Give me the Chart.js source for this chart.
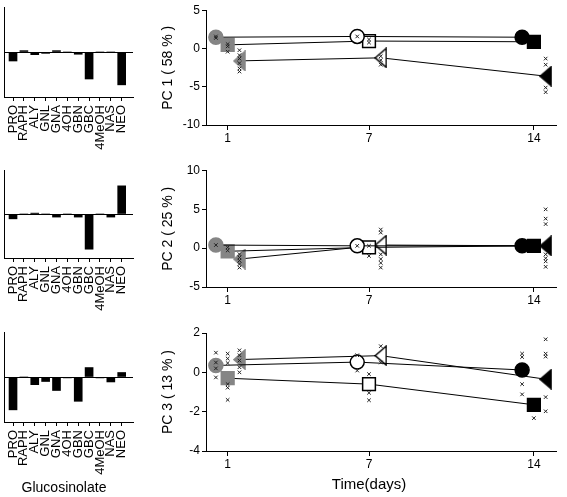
<!DOCTYPE html>
<html>
<head>
<meta charset="utf-8">
<script src="https://cdn.jsdelivr.net/npm/chart.js@4.4.1/dist/chart.umd.min.js"></script>
<style>
  html, body { margin: 0; padding: 0; background: #fff; width: 567px; height: 497px; overflow: hidden; }
  canvas { position: absolute; }
  .lbl { position: absolute; font-family: 'Liberation Sans', Arial, sans-serif; color: #000; white-space: nowrap; transform: translate(-50%, -50%); }
</style>
</head>
<body>
<canvas id="load1" width="140" height="157" style="left:0;top:0"></canvas>
<canvas id="load2" width="140" height="155" style="left:0;top:163px"></canvas>
<canvas id="load3" width="140" height="157" style="left:0;top:325px"></canvas>
<canvas id="score1" width="427" height="160" style="left:140px;top:0"></canvas>
<canvas id="score2" width="427" height="162" style="left:140px;top:160px"></canvas>
<canvas id="score3" width="427" height="177" style="left:140px;top:320px"></canvas>
<div class="lbl" style="left:64px;top:487px;font-size:14px">Glucosinolate</div>
<div class="lbl" style="left:369px;top:483px;font-size:15px">Time(days)</div>
<script>
// glucosinolate loadings (relative, left panels)
const glucosinolates = ['PRO', 'RAPH', 'ALY', 'GNL', 'GNA', '4OH', 'GBN', 'GBC', '4MeOH', 'NAS', 'NEO'];
const pc1Load = [-0.2, 0.03, -0.06, -0.03, 0.03, 0, -0.05, -0.6, 0, 0, -0.73];
const pc2Load = [-0.11, 0, 0.02, 0, -0.07, 0, -0.07, -0.8, 0, -0.07, 0.64];
const pc3Load = [-0.73, 0, -0.17, -0.1, -0.3, -0.02, -0.54, 0.21, -0.02, -0.11, 0.1];

// scores over time (right panels)
const days = [1, 7, 14];

const pc1Circle = [1.5, 1.6, 1.5];
const pc1Square = [0.5, 1.0, 0.9];
const pc1Triangle = [-1.6, -1.2, -3.6];
const pc1CircleReps = [[1.6, 1.4], [1.6], []];
const pc1SquareReps = [[0.6, 0.3, -0.4], [1.2, 0.8], []];
const pc1TriangleReps = [[-0.2, -0.85, -1.3, -1.9, -2.6, -3.0], [-1.0, -1.5, -2.1], [-1.3, -2.1, -5.1, -5.7]];
const pc1Ticks = [-10, -5, 0, 5];

const pc2Circle = [0.4, 0.3, 0.3];
const pc2Square = [-0.4, 0.1, 0.3];
const pc2Triangle = [-1.4, 0.4, 0.3];
const pc2CircleReps = [[0.4], [0.3], []];
const pc2SquareReps = [[0.1, -0.3], [0.3, -1.0], []];
const pc2TriangleReps = [[-0.77, -1.2, -1.6, -2.05, -2.5], [2.4, 2.0, -0.8, -1.4, -1.9, -2.5], [5.0, 3.8, 3.1, -0.8, -1.3, -1.7, -2.4]];
const pc2Ticks = [-5, 0, 5, 10];

const pc3Circle = [0.35, 0.52, 0.12];
const pc3Square = [-0.3, -0.6, -1.65];
const pc3Triangle = [0.65, 0.85, -0.35];
const pc3CircleReps = [[1.0, 0.5, 0.2, -0.26], [0.87, 0.09], [0.95, 0.78, -0.6, -1.12]];
const pc3SquareReps = [[0.95, 0.7, 0.47, -0.6, -0.78, -1.4], [-0.09, -1.04, -1.42], [-2.33]];
const pc3TriangleReps = [[1.12, 0.87, 0.6, 0.26, 0.0], [1.33, 0.5], [1.68, 0.95, 0.8, -1.26, -1.98]];
const pc3Ticks = [-4, -2, 0, 2];

Chart.defaults.font.family = "'Liberation Sans', Arial, sans-serif";
Chart.defaults.color = '#000';

// fixed axis size, no label overflow padding
const fixSize = (size) => (scale) => {
    if (scale.isHorizontal()) scale.height = size; else scale.width = size;
    scale.paddingTop = scale.paddingBottom = scale.paddingLeft = scale.paddingRight = 0;
};

function loadingChart(id, values) {
    new Chart(document.getElementById(id), {
        type: 'bar',
        data: {
            datasets: [{
                data: values.map((v, i) => ({ x: i, y: v })),
                backgroundColor: '#000',
                barThickness: 8
            }]
        },
        options: {
            responsive: false,
            devicePixelRatio: 1,
            animation: false,
            layout: { padding: { left: 0, top: 7, right: 7, bottom: 0 } },
            plugins: { legend: { display: false }, tooltip: { enabled: false } },
            scales: {
                x: {
                    type: 'linear', min: -0.83, max: 11.04, offset: false,
                    afterBuildTicks: (s) => { s.ticks = glucosinolates.map((_, i) => ({ value: i })); },
                    afterFit: fixSize(60),
                    ticks: {
                        autoSkip: false, minRotation: 90, maxRotation: 90, padding: 4,
                        font: { size: 13 },
                        callback: (v) => glucosinolates[v]
                    },
                    grid: { drawOnChartArea: false, offset: false, tickLength: 4, color: '#000' },
                    border: { color: '#000' }
                },
                y: {
                    min: -1, max: 1,
                    afterBuildTicks: (s) => { s.ticks = [{ value: -1 }, { value: 0 }, { value: 1 }]; },
                    afterFit: fixSize(4),
                    ticks: { display: false },
                    grid: {
                        drawTicks: false,
                        color: (c) => (c.tick && c.tick.value === 0 ? '#000' : 'rgba(0,0,0,0)')
                    },
                    border: { color: '#000' }
                }
            }
        }
    });
}

// left-pointing triangle marker
function triangleMarker(fill, edge) {
    const c = document.createElement('canvas');
    c.width = 13; c.height = 21;
    const g = c.getContext('2d');
    g.beginPath();
    g.moveTo(1, 10.5); g.lineTo(12, 1); g.lineTo(12, 20); g.closePath();
    g.fillStyle = fill; g.fill();
    g.lineWidth = 1.5; g.strokeStyle = edge; g.stroke();
    return c;
}

const markerFill = ['#858585', '#ffffff', '#000000'];
const markerEdge = ['#858585', '#000000', '#000000'];
const triangles = markerFill.map((f, i) => triangleMarker(f, markerEdge[i]));
const dodge = { circle: -0.5, square: 0, triangle: 0.5 };

const meanLine = (vals, off, style, radius) => ({
    data: vals.map((v, i) => ({ x: days[i] + off, y: v })),
    borderColor: '#000', borderWidth: 1,
    pointStyle: style, pointRadius: radius,
    pointBackgroundColor: markerFill, pointBorderColor: markerEdge, pointBorderWidth: 1.5,
    order: 1
});

const repPoints = (reps, off) => ({
    data: reps.flatMap((list, i) => list.map((v) => ({ x: days[i] + off, y: v }))),
    showLine: false,
    pointStyle: 'crossRot', pointRadius: 2.5, pointBorderWidth: 1,
    pointBorderColor: '#222', borderColor: '#222',
    order: 0
});

function scoreChart(id, p) {
    new Chart(document.getElementById(id), {
        type: 'line',
        data: {
            datasets: [
                repPoints(p.circleReps, dodge.circle),
                repPoints(p.squareReps, dodge.square),
                repPoints(p.triangleReps, dodge.triangle),
                meanLine(p.circle, dodge.circle, 'circle', 7),
                meanLine(p.square, dodge.square, 'rect', 9),
                meanLine(p.triangle, dodge.triangle, triangles, 7)
            ]
        },
        options: {
            responsive: false,
            devicePixelRatio: 1,
            animation: false,
            layout: { padding: { left: 0, top: p.top, right: 4, bottom: 0 } },
            plugins: { legend: { display: false }, tooltip: { enabled: false } },
            scales: {
                x: {
                    type: 'linear', min: 0.08, max: 14.96,
                    afterBuildTicks: (s) => { s.ticks = days.map((d) => ({ value: d })); },
                    afterFit: fixSize(p.xHeight),
                    ticks: { font: { size: 12 }, padding: 1 },
                    grid: { drawOnChartArea: false, tickLength: 5, color: '#000' },
                    border: { color: '#000' }
                },
                y: {
                    min: p.ticks[0], max: p.ticks[p.ticks.length - 1],
                    afterBuildTicks: (s) => { s.ticks = p.ticks.map((t) => ({ value: t })); },
                    afterFit: fixSize(66),
                    ticks: { font: { size: 12 }, padding: 2 },
                    grid: { drawOnChartArea: false, tickLength: 4, color: '#000' },
                    border: { color: '#000' },
                    title: { display: true, text: p.title, font: { size: 14 }, padding: { top: 20, bottom: 0 } }
                }
            }
        }
    });
}

loadingChart('load1', pc1Load);
loadingChart('load2', pc2Load);
loadingChart('load3', pc3Load);

scoreChart('score1', {
    title: 'PC 1 ( 58 % )', ticks: pc1Ticks, top: 9, xHeight: 35,
    circle: pc1Circle, square: pc1Square, triangle: pc1Triangle,
    circleReps: pc1CircleReps, squareReps: pc1SquareReps, triangleReps: pc1TriangleReps
});
scoreChart('score2', {
    title: 'PC 2 ( 25 % )', ticks: pc2Ticks, top: 10, xHeight: 35,
    circle: pc2Circle, square: pc2Square, triangle: pc2Triangle,
    circleReps: pc2CircleReps, squareReps: pc2SquareReps, triangleReps: pc2TriangleReps
});
scoreChart('score3', {
    title: 'PC 3 ( 13 % )', ticks: pc3Ticks, top: 13, xHeight: 46,
    circle: pc3Circle, square: pc3Square, triangle: pc3Triangle,
    circleReps: pc3CircleReps, squareReps: pc3SquareReps, triangleReps: pc3TriangleReps
});
</script>
</body>
</html>
